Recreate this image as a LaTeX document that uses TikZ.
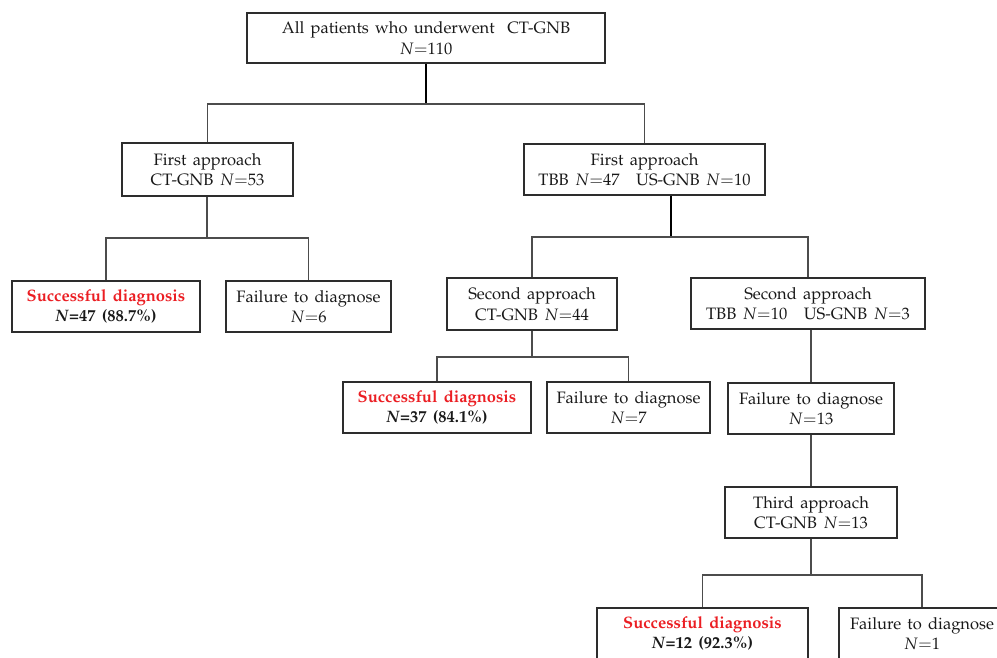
\documentclass[tikz,border=0pt]{standalone}
\usepackage[T1]{fontenc}
\usepackage{mathpazo}
\usepackage{xcolor}
\usepackage{tikz}
\definecolor{DiagRed}{RGB}{235, 30, 35}
\definecolor{BoxGray}{RGB}{45, 45, 45}
\newcommand{\boxfont}{\fontsize{9.4}{11.7}\selectfont\spaceskip=0.38em plus 0.1em\relax}
\tikzset{
    flowbox/.style={rectangle, draw=BoxGray, line width=0.7pt, align=center, inner sep=2pt,
        minimum height=10.2mm, text=black!90, font=\boxfont},
    link/.style={draw=BoxGray!85, line width=0.65pt},
    stem/.style={draw=black, line width=1.3pt},
}
\newcommand{\okdiag}{\textcolor{DiagRed}{\bfseries Successful diagnosis}}

\begin{document}
\begin{tikzpicture}[x=0.2mm, y=-0.2mm]
            \useasboundingbox (0,0) rectangle (997,657);
            \clip (0,0) rectangle (997,657);

            \node[flowbox, minimum width=71.6mm, minimum height=10mm] (all) at (426,38)
                {All patients who underwent\ \ CT-GNB\\ $N{=}110$};
            \node[flowbox, minimum width=34.2mm, minimum height=10.6mm] (first1) at (207.5,169.5)
                {First approach\\ CT-GNB $N{=}53$};
            \node[flowbox, minimum width=48.2mm] (first2) at (644.5,169.5)
                {First approach\\ TBB $N{=}47$\quad US-GNB $N{=}10$};

            \node[flowbox, minimum width=37.6mm] (ok1) at (106,306.5)
                {\okdiag\\ \textbf{\textit{N}=47 (88.7\%)}};
            \node[flowbox, minimum width=33mm] (fail1) at (308.5,306.5)
                {Failure to diagnose\\ $N{=}6$};

            \node[flowbox, minimum width=34mm, minimum height=10.4mm] (second1) at (532,304)
                {Second approach\\ CT-GNB $N{=}44$};
            \node[flowbox, minimum width=46.8mm] (second2) at (808,303.5)
                {Second approach\\ TBB $N{=}10$\quad US-GNB $N{=}3$};

            \node[flowbox, minimum width=37.6mm] (ok2) at (437,407.5)
                {\okdiag\\ \textbf{\textit{N}=37 (84.1\%)}};
            \node[flowbox, minimum width=32.6mm] (fail2) at (628.5,407.5)
                {Failure to diagnose\\ $N{=}7$};
            \node[flowbox, minimum width=33.2mm] (fail3) at (811,408.5)
                {Failure to diagnose\\ $N{=}13$};

            \node[flowbox, minimum width=34.4mm] (third) at (811,512.5)
                {Third approach\\ CT-GNB $N{=}13$};

            \node[flowbox, minimum width=42.2mm] (ok3) at (702.5,633.5)
                {\okdiag\\ \textbf{\textit{N}=12 (92.3\%)}};
            \node[flowbox, minimum width=33.2mm] (fail4) at (922,633.5)
                {Failure to diagnose\\ $N{=}1$};

            \coordinate (j0) at (426,104);
            \coordinate (j1) at (207,238);
            \coordinate (j2) at (671,237);
            \coordinate (j3) at (532,357);
            \coordinate (j4) at (811,575);

            \draw[stem] (all) -- (j0);
            \draw[link] (first1.north) |- (j0) -| (first2.north);
            \draw[link] (first1.south -| j1) -- (j1);
            \draw[link] (ok1.north) |- (j1) -| (fail1.north);
            \draw[stem] (first2.south -| j2) -- (j2);
            \draw[link] (second1.north) |- (j2) -| (second2.north);
            \draw[link] (second1) -- (j3);
            \draw[link] (ok2.north) |- (j3) -| (fail2.north);
            \draw[link] (second2.south -| fail3) -- (fail3);
            \draw[link] (fail3) -- (third);
            \draw[link] (third) -- (j4);
            \draw[link] (ok3.north) |- (j4) -| (fail4.north);
\end{tikzpicture}
\end{document}
